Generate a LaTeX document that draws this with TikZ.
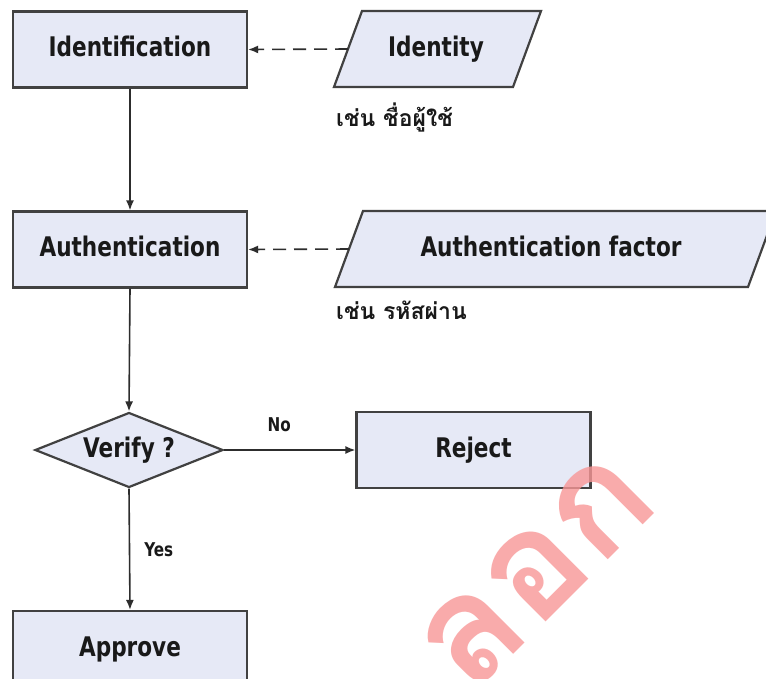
\documentclass[tikz,border=0pt]{standalone}
\usepackage{fontspec}
\setmainfont{DejaVu Sans}
\newfontfamily\labfont{DejaVu Sans}[FakeStretch=0.8]
\newfontfamily\thaifont[Script=Thai]{Loma}
\usetikzlibrary{arrows.meta,shapes.geometric}

\definecolor{boxfill}{RGB}{230,233,246}
\definecolor{edge}{RGB}{65,65,65}
\definecolor{ink}{RGB}{25,25,25}
\definecolor{conn}{RGB}{45,45,45}
\definecolor{wmark}{RGB}{248,150,150}

\begin{document}
\begin{tikzpicture}[x=1pt,y=-1pt,
  lab/.style={font=\labfont\bfseries\fontsize{27}{30}\selectfont, text=ink,
    text height=20pt, text depth=6pt, inner sep=0pt},
  box/.style={lab, draw=edge, line width=2.2pt, fill=boxfill,
    minimum width=234pt, minimum height=76pt},
  para/.style={draw=edge, line width=2.2pt, fill=boxfill, line join=miter},
  decision/.style={lab, diamond, draw=edge, line width=2.2pt, fill=boxfill,
    aspect=2.5, minimum width=188pt, minimum height=75pt},
  flow/.style={draw=conn, line width=1.6pt, -{Latex[length=10pt,width=8pt]}},
  dflow/.style={flow, dash pattern=on 13pt off 8pt},
  small/.style={font=\labfont\bfseries\fontsize{19}{22}\selectfont, text=ink, inner sep=0pt},
  note/.style={font=\thaifont\bfseries\fontsize{23}{26}\selectfont, text=ink, inner sep=0pt, anchor=base west}]

\useasboundingbox (0,0) rectangle (766,678);
\clip (0,0) rectangle (766,678);
\fill[white] (0,0) rectangle (766,678);

% main process boxes
\node[box] (ident) at (130,49.5) {Identification};
\node[box] (auth) at (130,249.5) {Authentication};
\node[decision] (verify) at (129,450) {Verify ?};
\node[box] (reject) at (473.5,450) {Reject};
\node[box] (approve) at (130,649) {Approve};

% input data (parallelograms)
\draw[para] (334,87) -- (362,11) -- (541,11) -- (513,87) -- cycle;
\node[lab] (identity) at (436,49) {Identity};
\coordinate (idl) at (348,49);

\draw[para] (335,287) -- (363,211) -- (776,211) -- (748,287) -- cycle;
\node[lab] (factor) at (551,249) {Authentication factor};
\coordinate (afl) at (349,249);

% examples
\node[note] (ex1) at (336,126) {เช่น ชื่อผู้ใช้};
\node[note] (ex2) at (336,319) {เช่น รหัสผ่าน};

% connectors
\draw[dflow] (idl) -- (ident.east);
\draw[dflow] (afl) -- (auth.east);
\draw[flow] (ident.south) -- (auth.north);
\draw[flow] (auth.south) -- (verify.north);
\draw[flow] (verify.east) -- node[small, pos=0.42, above=17pt] {No} (reject.west);
\draw[flow] (verify.south) -- node[small, midway, right=14pt] {Yes} (approve.north);

% watermark
\node[font=\thaifont\bfseries\fontsize{150}{150}\selectfont, text=wmark,
  text opacity=0.8, rotate=45, inner sep=0pt] (wm) at (537,572) {ลอก};
\end{tikzpicture}
\end{document}
